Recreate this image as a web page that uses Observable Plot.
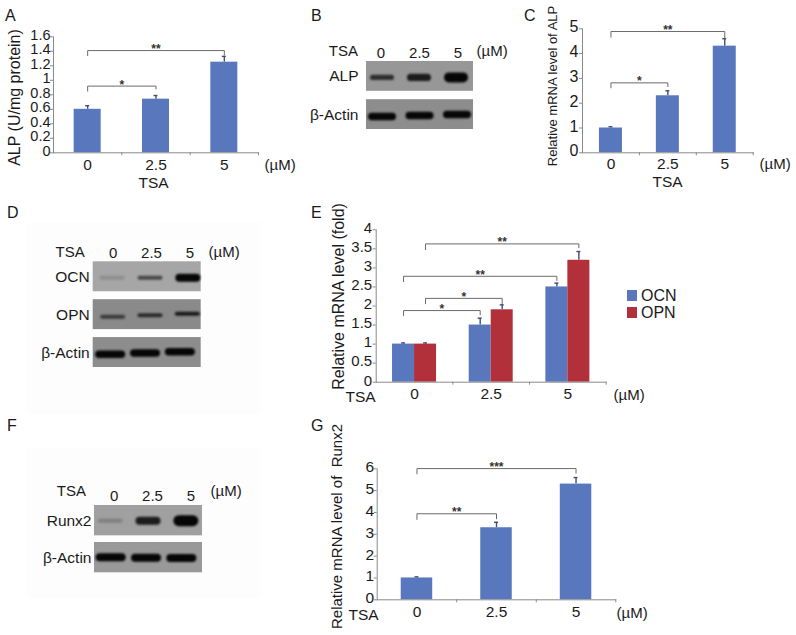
<!DOCTYPE html>
<html><head><meta charset="utf-8">
<script src="https://cdn.jsdelivr.net/npm/d3@7"></script>
<script src="https://cdn.jsdelivr.net/npm/@observablehq/plot@0.6"></script>
<style>
html,body{margin:0;background:#fff}
#fig{position:relative;width:796px;height:635px;overflow:hidden;font-family:"Liberation Sans",Arial,sans-serif;color:#1a1a1a}
#fig svg{position:absolute;overflow:visible}
.letter{position:absolute;font-size:16px;line-height:16px}
</style></head><body><div id="fig"></div>
<script>
// ---------- data ----------
const doses = ["0", "2.5", "5"];
const alpProtein = [0.6, 0.74, 1.25];
const alpProteinTop = [0.65, 0.79, 1.33];
const alpMrna = [1, 2.3, 4.3];
const alpMrnaTop = [1.05, 2.5, 4.6];
const ocnMrna = [1, 1.5, 2.5];
const ocnMrnaTop = [1.03, 1.68, 2.6];
const opnMrna = [1, 1.9, 3.2];
const opnMrnaTop = [1.03, 2.03, 3.43];
const runx2Mrna = [1, 3.3, 5.3];
const runx2MrnaTop = [1.05, 3.55, 5.6];
const ticksA = [0, 0.2, 0.4, 0.6, 0.8, 1, 1.2, 1.4, 1.6];
const ticksC = [0, 1, 2, 3, 4, 5];
const ticksE = [0, 0.5, 1, 1.5, 2, 2.5, 3, 3.5, 4];
const ticksG = [0, 1, 2, 3, 4, 5, 6];
const bracketsA = [["0", "2.5", 0.92, 0.85, 0.88, "*"], ["0", "5", 1.41, 1.34, 1.35, "**"]];
const bracketsC = [["0", "2.5", 2.82, 2.62, 2.67, "*"], ["0", "5", 4.89, 4.66, 4.63, "**"]];
const bracketsEocn = [["0", "2.5", 1.88, 1.75, 1.77, "*"], ["0", "5", 2.78, 2.64, 2.67, "**"]];
const bracketsEopn = [["0", "2.5", 2.2, 2.06, 2.06, "*"], ["0", "5", 3.63, 3.48, 3.53, "**"]];
const bracketsG = [["0", "2.5", 3.94, 3.68, 3.71, "**"], ["0", "5", 6.01, 5.77, 5.8, "***"]];
const seriesNames = ["OCN", "OPN"];
const alpBlot = [0.72, 0.85, 1];
const ocnBlot = [0.14, 0.6, 1];
const opnBlot = [0.6, 0.72, 0.85];
const runx2Blot = [0.2, 0.85, 1];
const actinBlot = [1, 1, 1];

// ---------- palette / helpers ----------
const font = "Liberation Sans, Arial, sans-serif";
const blue = "#5877bd", red = "#b2303a", axisGrey = "#8a8a8a", bracketGrey = "#6a6a6a", errDark = "#3d4f77", ink = "#1a1a1a";
const fig = document.getElementById("fig");

function place(svg, b) { svg.style.left = b.l + "px"; svg.style.top = b.t + "px"; fig.appendChild(svg); }

function note(b, m, t, px, py, o = {}) {
  return Plot.text([t], {text: d => d, frameAnchor: "top-left", dx: px - b.l - m.left, dy: py - b.t - m.top,
    lineAnchor: "middle", textAnchor: "start", fill: ink, ...o});
}

function bracketMarks(list, step, off) {
  return list.flatMap(([from, to, level, dropL, dropR, stars]) => {
    const span = doses.indexOf(to) - doses.indexOf(from);
    return [
      Plot.line([[from, dropL], [from, level], [to, level], [to, dropR]], {x: d => d[0], y: d => d[1], stroke: bracketGrey, strokeWidth: 1, dx: off}),
      Plot.text([stars], {text: d => d, x: () => from, y: () => level, dx: off + span * step / 2, dy: 2.5, lineAnchor: "bottom", fontSize: 12, fontWeight: "bold", fill: "#333"})
    ];
  });
}

function errMarks(values, tops, bw, off) {
  const rows = doses.map((d, i) => ({d, v: values[i], t: tops[i]}));
  return [
    Plot.ruleX(rows, {x: "d", y1: "v", y2: "t", stroke: errDark, strokeWidth: 1.4, dx: off}),
    Plot.tickY(rows, {x: "d", y: "t", stroke: errDark, strokeWidth: 1.4, dx: off, insetLeft: bw / 2 - 2, insetRight: bw / 2 - 2})
  ];
}

function chart(c) {
  const b = c.box, a = c.area;
  const m = {left: a.x0 - b.l, right: b.l + b.w - a.x1, top: a.y1 - b.t, bottom: b.t + b.h - a.y0};
  const step = (a.x1 - a.x0) / 3, bw = c.barW, gap = 1 - bw / step;
  const marks = [
    Plot.frame({anchor: "left", stroke: axisGrey}),
    ...c.series.flatMap(s => [
      ...errMarks(s.values, s.tops, bw, s.off || 0),
      Plot.barY(doses.map((d, i) => ({d, v: s.values[i]})), {x: "d", y: "v", fill: s.fill, dx: s.off || 0})
    ]),
    Plot.frame({anchor: "bottom", stroke: axisGrey}),
    Plot.axisY(c.ticks, {fill: "none", tickSize: 3, stroke: axisGrey, label: null}),
    Plot.axisY(c.ticks, {stroke: "none", tickSize: 3, tickPadding: c.yPad, dy: -1.5, fontSize: c.yFont, fill: ink, label: null, tickFormat: String}),
    Plot.axisX({fill: "none", tickSize: 3, stroke: axisGrey, dx: step / 2, label: null}),
    Plot.axisX({stroke: "none", tickSize: 0, tickPadding: c.xPad, fontSize: 15.5, fill: ink, label: null}),
    ...c.series.flatMap(s => bracketMarks(s.brackets, step, s.off || 0)),
    ...c.notes.map(n => note(b, m, ...n))
  ];
  place(Plot.plot({
    width: b.w, height: b.h, marginLeft: m.left, marginRight: m.right, marginTop: m.top, marginBottom: m.bottom,
    style: {background: "transparent", fontFamily: font, color: ink},
    x: {type: "band", domain: doses, paddingInner: gap, paddingOuter: gap / 2, round: false},
    y: {domain: c.domain},
    marks
  }), b);
}

function blot(c) {
  const b = c.box, a = c.area;
  const m = {left: a.x0 - b.l, right: b.l + b.w - a.x1, top: a.y0 - b.t, bottom: b.t + b.h - a.y1};
  const names = c.rows.map(r => r.name);
  const laneStep = (c.lanes[1] - c.lanes[0]) / 3;
  const bandH = (a.y1 - a.y0) / (names.length + (names.length - 1) * c.gap / (1 - c.gap));
  const bands = c.rows.flatMap(r => r.density.map((den, i) => {
    const thick = Math.max(4, r.gauge * den * den);
    const wide = r.wide;
    return Plot.cell([{row: r.name, lane: doses[i]}], {
      x: "lane", y: "row", fill: "#060606", fillOpacity: den, rx: thick / 2,
      insetLeft: (laneStep - wide) / 2, insetRight: (laneStep - wide) / 2,
      insetTop: (bandH - thick) / 2, insetBottom: (bandH - thick) / 2,
      dx: r.shift + r.skew * (i - 1), dy: r.dy + r.tilt * (i - 1),
      imageFilter: "blur(1.3px)"
    });
  }));
  place(Plot.plot({
    width: b.w, height: b.h, marginLeft: m.left, marginRight: m.right, marginTop: m.top, marginBottom: m.bottom,
    style: {background: c.bg || "transparent", fontFamily: font, color: ink},
    x: {type: "band", domain: doses, range: [c.lanes[0] - b.l, c.lanes[1] - b.l], padding: 0, round: false},
    y: {type: "band", domain: names, paddingInner: c.gap, paddingOuter: 0, round: false},
    marks: [
      ...c.rows.map(r => Plot.cell([r], {y: "name", fill: r.tone})),
      ...bands,
      Plot.axisX({anchor: "top", tickSize: 0, tickPadding: c.topPad, fontSize: 15, fill: ink, label: null}),
      Plot.axisY({tickSize: 0, tickPadding: c.leftPad, fontSize: 15.5, fill: ink, label: null}),
      note(b, m, "TSA", a.x0 - 8.5, c.labelY, {textAnchor: "end", fontSize: 15}),
      note(b, m, "(\u00b5M)", c.unitX, c.labelY, {fontSize: 15})
    ]
  }), b);
}

// ---------- panels ----------
for (const [t, x, y] of [["A", 5, 8], ["B", 311, 8], ["C", 524, 8], ["D", 7, 205], ["E", 311, 205], ["F", 7, 418], ["G", 311, 418]]) {
  const el = document.createElement("div");
  el.className = "letter"; el.textContent = t; el.style.left = x + "px"; el.style.top = y + "px";
  fig.appendChild(el);
}

chart({
  box: {l: 0, t: 0, w: 300, h: 200}, area: {x0: 53, x1: 258, y0: 152.3, y1: 36.3}, barW: 27,
  domain: [0, 1.6], ticks: ticksA, yFont: 14.5, yPad: 0, xPad: 6,
  series: [{values: alpProtein, tops: alpProteinTop, fill: blue, brackets: bracketsA}],
  notes: [
    ["ALP (U/mg protein)", 14, 97, {rotate: -90, textAnchor: "middle", fontSize: 16}],
    ["TSA", 153, 183, {textAnchor: "middle", fontSize: 15.5}],
    ["(\u00b5M)", 264, 165, {fontSize: 15}]
  ]
});

blot({
  box: {l: 300, t: 30, w: 210, h: 105}, area: {x0: 366, x1: 473, y0: 61, y1: 129}, lanes: [361.25, 476.75], gap: 0.22,
  topPad: 4, leftPad: 8, labelY: 51, unitX: 476,
  rows: [
    {name: "ALP", density: alpBlot, tone: "#979797", gauge: 10, wide: 24, shift: 0, skew: -1.5, dy: 1.5, tilt: 0},
    {name: "\u03b2-Actin", density: actinBlot, tone: "#8d8d8d", gauge: 7.5, wide: 28, shift: 0.5, skew: -1, dy: 1.5, tilt: -1}
  ]
});

chart({
  box: {l: 510, t: 0, w: 286, h: 200}, area: {x0: 582, x1: 752.7, y0: 152.3, y1: 28.3}, barW: 23,
  domain: [0, 5], ticks: ticksC, yFont: 16, yPad: 1, xPad: 5,
  series: [{values: alpMrna, tops: alpMrnaTop, fill: blue, brackets: bracketsC}],
  notes: [
    ["Relative mRNA level of ALP", 552, 85.5, {rotate: -90, textAnchor: "middle", fontSize: 13}],
    ["TSA", 667, 182, {textAnchor: "middle", fontSize: 15.5}],
    ["(\u00b5M)", 759, 164, {fontSize: 15}]
  ]
});

blot({
  box: {l: 27, t: 222, w: 233, h: 192}, bg: "#fdfdfd",
  area: {x0: 92.7, x1: 200.7, y0: 261.3, y1: 367}, lanes: [93.5, 208.5], gap: 0.21,
  topPad: 4, leftPad: 3.5, labelY: 251.7, unitX: 208,
  rows: [
    {name: "OCN", density: ocnBlot, tone: "#a6a6a6", gauge: 8, wide: 25, shift: -1, skew: -0.5, dy: 1.5, tilt: 0},
    {name: "OPN", density: opnBlot, tone: "#8a8a8a", gauge: 4, wide: 25, shift: -1, skew: -1, dy: 1, tilt: -1.5},
    {name: "\u03b2-Actin", density: actinBlot, tone: "#8d8d8d", gauge: 7.5, wide: 30, shift: -6, skew: -3.5, dy: 1, tilt: -1.2}
  ]
});

chart({
  box: {l: 325, t: 200, w: 325, h: 210}, area: {x0: 375.7, x1: 605.7, y0: 381.7, y1: 229.3}, barW: 22,
  domain: [0, 4], ticks: ticksE, yFont: 15, yPad: 1, xPad: 6,
  series: [
    {values: ocnMrna, tops: ocnMrnaTop, fill: blue, off: -11, brackets: bracketsEocn},
    {values: opnMrna, tops: opnMrnaTop, fill: red, off: 11, brackets: bracketsEopn}
  ],
  notes: [
    ["Relative mRNA level (fold)", 338, 296, {rotate: -90, textAnchor: "middle", fontSize: 16}],
    ["TSA", 345, 396.5, {fontSize: 15.5}],
    ["(\u00b5M)", 613, 395, {fontSize: 15}]
  ]
});

place(Plot.plot({
  width: 56, height: 28, marginLeft: 1, marginRight: 45, marginTop: 0, marginBottom: 0,
  style: {background: "transparent", fontFamily: font, color: ink},
  color: {domain: seriesNames, range: [blue, red]},
  y: {type: "band", domain: seriesNames, paddingInner: 0.35, paddingOuter: 0, round: false},
  marks: [
    Plot.cell(seriesNames, {y: d => d, fill: d => d}),
    Plot.axisY({anchor: "right", tickSize: 0, tickPadding: 3.5, fontSize: 16, fill: ink, label: null})
  ]
}), {l: 626, t: 290});

blot({
  box: {l: 27, t: 448, w: 233, h: 150}, bg: "#fdfdfd",
  area: {x0: 94, x1: 202, y0: 505, y1: 572.3}, lanes: [94.5, 209.5], gap: 0.18,
  topPad: 5, leftPad: 3, labelY: 490.7, unitX: 210,
  rows: [
    {name: "Runx2", density: runx2Blot, tone: "#a0a0a0", gauge: 11, wide: 25, shift: -4, skew: -0.5, dy: 0.5, tilt: 0},
    {name: "\u03b2-Actin", density: actinBlot, tone: "#999999", gauge: 8, wide: 30, shift: -6, skew: -3, dy: 0.5, tilt: 0.3}
  ]
});

chart({
  box: {l: 325, t: 415, w: 325, h: 220}, area: {x0: 376.7, x1: 615.3, y0: 599.3, y1: 468.3}, barW: 31.5,
  domain: [0, 6], ticks: ticksG, yFont: 15.5, yPad: 0, xPad: 6,
  series: [{values: runx2Mrna, tops: runx2MrnaTop, fill: blue, brackets: bracketsG}],
  notes: [
    ["Relative mRNA level of \u00a0Runx2", 337, 526, {rotate: -90, textAnchor: "middle", fontSize: 15}],
    ["TSA", 348, 614.5, {fontSize: 15.5}],
    ["(\u00b5M)", 616, 613, {fontSize: 15}]
  ]
});
</script></body></html>
